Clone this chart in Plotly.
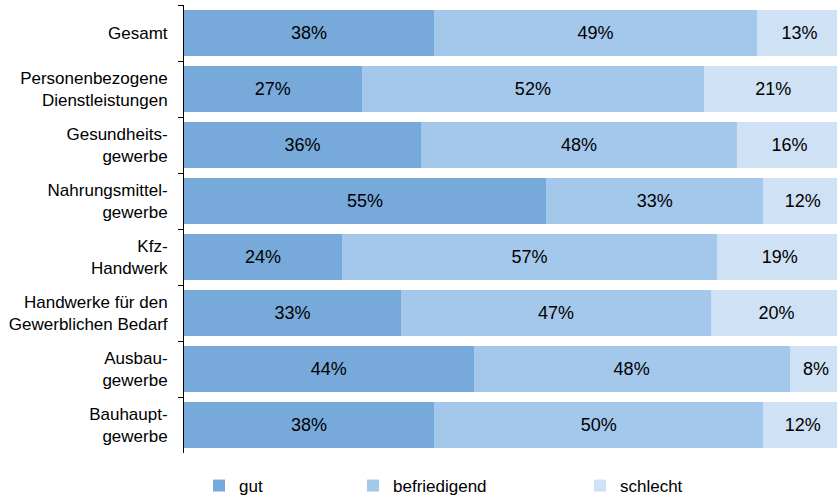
import plotly.graph_objects as go

categories = ["Gesamt", "Personenbezogene<br>Dienstleistungen", "Gesundheits-<br>gewerbe",
              "Nahrungsmittel-<br>gewerbe", "Kfz-<br>Handwerk", "Handwerke für den<br>Gewerblichen Bedarf",
              "Ausbau-<br>gewerbe", "Bauhaupt-<br>gewerbe"]
gut = [38, 27, 36, 55, 24, 33, 44, 38]
befriedigend = [49, 52, 48, 33, 57, 47, 48, 50]
schlecht = [13, 21, 16, 12, 19, 20, 8, 12]

series = [("gut", gut, "#77AADB", "legend"),
          ("befriedigend", befriedigend, "#A4C7EC", "legend2"),
          ("schlecht", schlecht, "#CFE1F5", "legend3")]

FONT = "Liberation Sans, Arial"

fig = go.Figure()
for name, vals, color, lg in series:
    fig.add_trace(go.Bar(
        y=categories, x=vals, name=name, orientation="h",
        marker=dict(color=color, line=dict(width=0)),
        text=[f"{v}%" for v in vals], textposition="inside",
        insidetextanchor="middle", constraintext="none",
        textfont=dict(family=FONT, size=18, color="#000000"),
        legend=lg,
    ))

leg_common = dict(orientation="h", yanchor="middle", xanchor="left",
                  font=dict(family=FONT, size=17, color="#000000"),
                  bgcolor="rgba(0,0,0,0)", itemwidth=30)
fig.update_layout(
    width=837, height=497,
    margin=dict(l=184, r=0, t=5, b=44, autoexpand=False),
    barmode="stack", bargap=0.18,
    plot_bgcolor="white", paper_bgcolor="white",
    font=dict(family=FONT, size=17, color="#000000"),
    showlegend=True,
    legend=dict(x=0.023, y=-0.0737, **leg_common),
    legend2=dict(x=0.2588, y=-0.0737, **leg_common),
    legend3=dict(x=0.6064, y=-0.0737, **leg_common),
    xaxis=dict(range=[0, 99.2], showticklabels=False, showgrid=False, zeroline=False,
               showline=False, fixedrange=True, automargin=False),
    yaxis=dict(autorange="reversed", showline=True, linecolor="#000000", linewidth=1,
               ticks="outside", tickson="boundaries", ticklen=5, tickcolor="#000000",
               showgrid=False, automargin=False,
               tickfont=dict(family=FONT, size=17, color="#000000"),
               ticklabelstandoff=12),
)

fig.write_html("out.html", config={"displayModeBar": False},
               post_script="document.body.style.margin='0';")
